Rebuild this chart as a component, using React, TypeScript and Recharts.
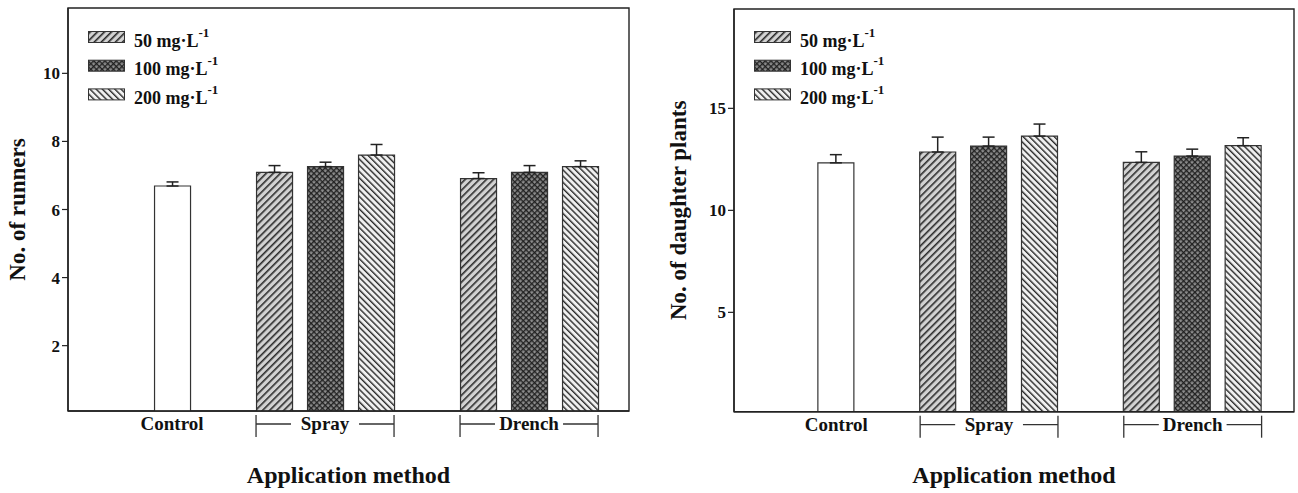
import React from "react";
import { BarChart, Bar, XAxis, YAxis, ErrorBar, Cell, ReferenceArea, Legend, Label } from "recharts";

// ---------- data ----------
const methods = ["Control", "Spray", "Drench"];
const concentrations = ["50", "100", "200"];
const unitText = "mg·L";
const unitExp = "-1";

const runnersControl = [6.69];
const runnersControlErr = [0.12];
const runnersSpray = [7.09, 7.26, 7.6];
const runnersSprayErr = [0.2, 0.13, 0.31];
const runnersDrench = [6.91, 7.09, 7.26];
const runnersDrenchErr = [0.17, 0.2, 0.17];

const plantsControl = [12.33];
const plantsControlErr = [0.4];
const plantsSpray = [12.86, 13.15, 13.64];
const plantsSprayErr = [0.73, 0.44, 0.59];
const plantsDrench = [12.35, 12.66, 13.17];
const plantsDrenchErr = [0.52, 0.34, 0.39];

const runnersTicks = [2, 4, 6, 8, 10];
const plantsTicks = [5, 10, 15];

const xAxisTitle = "Application method";
const runnersTitle = "No. of runners";
const plantsTitle = "No. of daughter plants";

// ---------- layout / style ----------
const FONT = "'Liberation Serif', 'Times New Roman', serif";
const INK = "#222";
const BAR_SIZE = 36;
const CHART_H = 493;

const groupStart = (g: number) => (g === 0 ? 1 : 4 * g - 1);

type Row = { slot: number; value: number; err: [number, number]; g: number; c: number };

function buildRows(vals: number[][], errs: number[][]): Row[] {
  const rows: Row[] = [];
  vals.forEach((arr, g) => {
    arr.forEach((v, i) => {
      rows.push({ slot: groupStart(g) + i, value: v, err: [0, errs[g][i]], g, c: i });
    });
  });
  return rows;
}

const runnersRows = buildRows(
  [runnersControl, runnersSpray, runnersDrench],
  [runnersControlErr, runnersSprayErr, runnersDrenchErr]
);
const plantsRows = buildRows(
  [plantsControl, plantsSpray, plantsDrench],
  [plantsControlErr, plantsSprayErr, plantsDrenchErr]
);
const groupSizes = [runnersControl.length, runnersSpray.length, runnersDrench.length];
const methodCenters = groupSizes.map((n, g) => groupStart(g) + (n - 1) / 2);

function Patterns({ id }: { id: string }) {
  return (
    <defs>
      <pattern id={`${id}-p0`} width="5" height="5" patternUnits="userSpaceOnUse" patternTransform="rotate(45)">
        <rect width="5" height="5" fill="#d2d2d2" />
        <line x1="0.8" y1="0" x2="0.8" y2="5" stroke="#2a2a2a" strokeWidth="1.6" />
      </pattern>
      <pattern id={`${id}-p1`} width="4" height="4" patternUnits="userSpaceOnUse" patternTransform="rotate(45)">
        <rect width="4" height="4" fill="#8c8c8c" />
        <line x1="0.7" y1="0" x2="0.7" y2="4" stroke="#1e1e1e" strokeWidth="1.3" />
        <line x1="0" y1="0.7" x2="4" y2="0.7" stroke="#1e1e1e" strokeWidth="1.3" />
      </pattern>
      <pattern id={`${id}-p2`} width="4.4" height="4.4" patternUnits="userSpaceOnUse" patternTransform="rotate(-45)">
        <rect width="4.4" height="4.4" fill="#f0f0f0" />
        <line x1="0.7" y1="0" x2="0.7" y2="4.4" stroke="#2a2a2a" strokeWidth="1.4" />
      </pattern>
    </defs>
  );
}

function LegendBox({ id }: { id: string }) {
  const rowGap = 28.7;
  return (
    <svg width={180} height={86} style={{ display: "block", overflow: "visible" }}>
      <Patterns id={`${id}-lg`} />
      {concentrations.map((c, i) => {
        const cy = 11 + i * rowGap;
        return (
          <g key={c}>
            <rect x={0.5} y={cy - 5.5} width={36} height={11} fill={`url(#${id}-lg-p${i})`} stroke="#333" strokeWidth={1} />
            <text x={46} y={cy + 9.5} fontFamily={FONT} fontWeight="bold" fontSize={18} fill="#111">
              {`${c} ${unitText}`}
              <tspan dy={-10} fontSize={13}>{unitExp}</tspan>
            </text>
          </g>
        );
      })}
    </svg>
  );
}

function MethodTick(props: any) {
  const { x, y, payload, unitPx } = props;
  const g = methodCenters.indexOf(payload.value);
  if (g < 0) return null;
  const label = methods[g];
  const n = groupSizes[g];
  const textEl = (
    <text x={x} y={y + 19} textAnchor="middle" fontFamily={FONT} fontWeight="bold" fontSize={19} fill="#111">
      {label}
    </text>
  );
  if (n <= 1) return textEl;
  const half = ((n - 1) / 2) * unitPx + BAR_SIZE / 2;
  const l = x - half;
  const r = x + half;
  const my = y + 13;
  const st = { stroke: "#333", strokeWidth: 1.3 };
  return (
    <g>
      <line x1={l} y1={y + 4} x2={l} y2={y + 26} {...st} />
      <line x1={r} y1={y + 4} x2={r} y2={y + 26} {...st} />
      <line x1={l} y1={my} x2={l + 35} y2={my} {...st} />
      <line x1={r - 35} y1={my} x2={r} y2={my} {...st} />
      {textEl}
    </g>
  );
}

type PanelProps = {
  id: string;
  rows: Row[];
  width: number;
  yAxisWidth: number;
  top: number;
  right: number;
  xAxisHeight: number;
  xDomain: [number, number];
  yDomain: [number, number];
  yTicks: number[];
  yTitle: string;
  yTitleX: number;
};

function Panel(p: PanelProps) {
  const plotLeft = p.yAxisWidth;
  const plotRight = p.width - p.right;
  const plotTop = p.top;
  const plotBottom = CHART_H - p.xAxisHeight;
  const unitPx = (plotRight - plotLeft) / (p.xDomain[1] - p.xDomain[0]);
  const cx = (plotLeft + plotRight) / 2;
  const cy = (plotTop + plotBottom) / 2;
  return (
    <BarChart width={p.width} height={CHART_H} data={p.rows} margin={{ top: p.top, right: p.right, left: 0, bottom: 0 }}>
      <Patterns id={p.id} />
      <XAxis
        dataKey="slot"
        type="number"
        domain={p.xDomain}
        allowDataOverflow
        ticks={methodCenters}
        interval={0}
        height={p.xAxisHeight}
        tickLine={false}
        tickSize={0}
        tickMargin={0}
        axisLine={{ stroke: INK, strokeWidth: 1.4 }}
        tick={(tp: any) => <MethodTick {...tp} unitPx={unitPx} />}
      >
        <Label
          content={() => (
            <text x={cx} y={483} textAnchor="middle" fontFamily={FONT} fontWeight="bold" fontSize={24} fill="#111">
              {xAxisTitle}
            </text>
          )}
        />
      </XAxis>
      <YAxis
        type="number"
        domain={p.yDomain}
        allowDataOverflow
        ticks={p.yTicks}
        interval={0}
        width={p.yAxisWidth}
        tickSize={6}
        tickMargin={2}
        tickLine={{ stroke: INK, strokeWidth: 1.2 }}
        axisLine={{ stroke: INK, strokeWidth: 1.4 }}
        tick={{ fontFamily: FONT, fontWeight: "bold", fontSize: 17, fill: "#111" }}
      >
        <Label
          content={() => (
            <text
              x={p.yTitleX}
              y={cy}
              transform={`rotate(-90, ${p.yTitleX}, ${cy})`}
              textAnchor="middle"
              fontFamily={FONT}
              fontWeight="bold"
              fontSize={23}
              fill="#111"
            >
              {p.yTitle}
            </text>
          )}
        />
      </YAxis>
      <ReferenceArea
        x1={p.xDomain[0]}
        x2={p.xDomain[1]}
        y1={p.yDomain[0]}
        y2={p.yDomain[1]}
        fill="none"
        fillOpacity={0}
        stroke={INK}
        strokeWidth={1.4}
      />
      <Legend
        layout="vertical"
        align="center"
        verticalAlign="middle"
        content={() => <LegendBox id={p.id} />}
        wrapperStyle={{ left: plotLeft + 20, top: 26, width: 180, height: 86 }}
      />
      <Bar dataKey="value" barSize={BAR_SIZE} stroke="#333" strokeWidth={1.2} isAnimationActive={false}>
        {p.rows.map((r, i) => (
          <Cell key={i} fill={r.g === 0 ? "#ffffff" : `url(#${p.id}-p${r.c})`} />
        ))}
        <ErrorBar dataKey="err" direction="y" width={6} stroke={INK} strokeWidth={1.5} />
      </Bar>
    </BarChart>
  );
}

export default function App() {
  return (
    <div style={{ position: "absolute", left: 0, top: 0, width: 1298, height: 493, background: "#fff" }}>
      <div style={{ position: "absolute", left: 0, top: 0 }}>
        <Panel
          id="runners"
          rows={runnersRows}
          width={650}
          yAxisWidth={68}
          top={8}
          right={21}
          xAxisHeight={82}
          xDomain={[-1.04, 9.96]}
          yDomain={[0.08, 11.92]}
          yTicks={runnersTicks}
          yTitle={runnersTitle}
          yTitleX={25}
        />
      </div>
      <div style={{ position: "absolute", left: 649, top: 0 }}>
        <Panel
          id="plants"
          rows={plantsRows}
          width={649}
          yAxisWidth={85}
          top={9}
          right={4}
          xAxisHeight={81.3}
          xDomain={[-1.01, 9.99]}
          yDomain={[0.13, 19.87]}
          yTicks={plantsTicks}
          yTitle={plantsTitle}
          yTitleX={37}
        />
      </div>
    </div>
  );
}
